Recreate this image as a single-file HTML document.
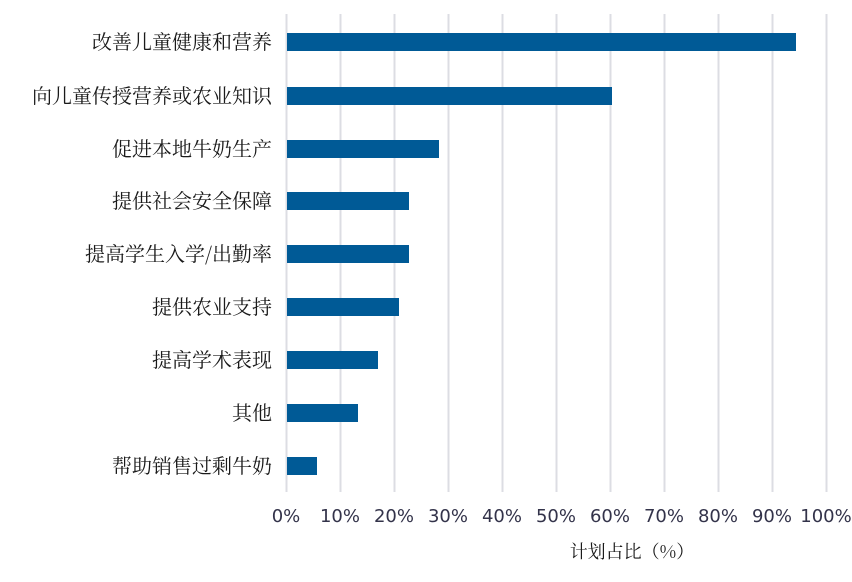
<!DOCTYPE html>
<html><head><meta charset="utf-8"><style>body{margin:0;background:#fff}</style></head><body>
<svg width="852" height="577" xmlns="http://www.w3.org/2000/svg">
<g stroke="#dcdde3" stroke-width="2">
<line x1="286.5" y1="14" x2="286.5" y2="492"/><line x1="340.5" y1="14" x2="340.5" y2="492"/><line x1="394.5" y1="14" x2="394.5" y2="492"/><line x1="448.5" y1="14" x2="448.5" y2="492"/><line x1="502.5" y1="14" x2="502.5" y2="492"/><line x1="556.5" y1="14" x2="556.5" y2="492"/><line x1="610.5" y1="14" x2="610.5" y2="492"/><line x1="664.5" y1="14" x2="664.5" y2="492"/><line x1="718.5" y1="14" x2="718.5" y2="492"/><line x1="772.5" y1="14" x2="772.5" y2="492"/><line x1="826.5" y1="14" x2="826.5" y2="492"/>
</g>
<g fill="#005a96">
<rect x="287" y="33" width="509" height="18"/>
<rect x="287" y="87" width="325" height="18"/>
<rect x="287" y="140" width="152" height="18"/>
<rect x="287" y="192" width="122" height="18"/>
<rect x="287" y="245" width="122" height="18"/>
<rect x="287" y="298" width="112" height="18"/>
<rect x="287" y="351" width="91" height="18"/>
<rect x="287" y="404" width="71" height="18"/>
<rect x="287" y="457" width="30" height="18"/>
</g>
<g font-family="'Noto Serif CJK SC','Liberation Serif',serif" font-size="20" fill="#1a1a1a" text-anchor="end">
<text x="272" y="49">改善儿童健康和营养</text>
<text x="272" y="103">向儿童传授营养或农业知识</text>
<text x="272" y="156">促进本地牛奶生产</text>
<text x="272" y="208">提供社会安全保障</text>
<text x="272" y="261">提高学生入学/出勤率</text>
<text x="272" y="314">提供农业支持</text>
<text x="272" y="367">提高学术表现</text>
<text x="272" y="420">其他</text>
<text x="272" y="473">帮助销售过剩牛奶</text>
</g>
<g font-family="'DejaVu Sans','Liberation Sans',sans-serif" font-size="18" fill="#33334a" text-anchor="middle">
<text x="286" y="522">0%</text><text x="340" y="522">10%</text><text x="394" y="522">20%</text><text x="448" y="522">30%</text><text x="502" y="522">40%</text><text x="556" y="522">50%</text><text x="610" y="522">60%</text><text x="664" y="522">70%</text><text x="718" y="522">80%</text><text x="772" y="522">90%</text><text x="826" y="522">100%</text>
</g>
<text x="632" y="558" font-family="'Noto Serif CJK SC','Liberation Serif',serif" font-size="18" fill="#1a1a1a" text-anchor="middle">计划占比（%）</text>
</svg>
</body></html>
